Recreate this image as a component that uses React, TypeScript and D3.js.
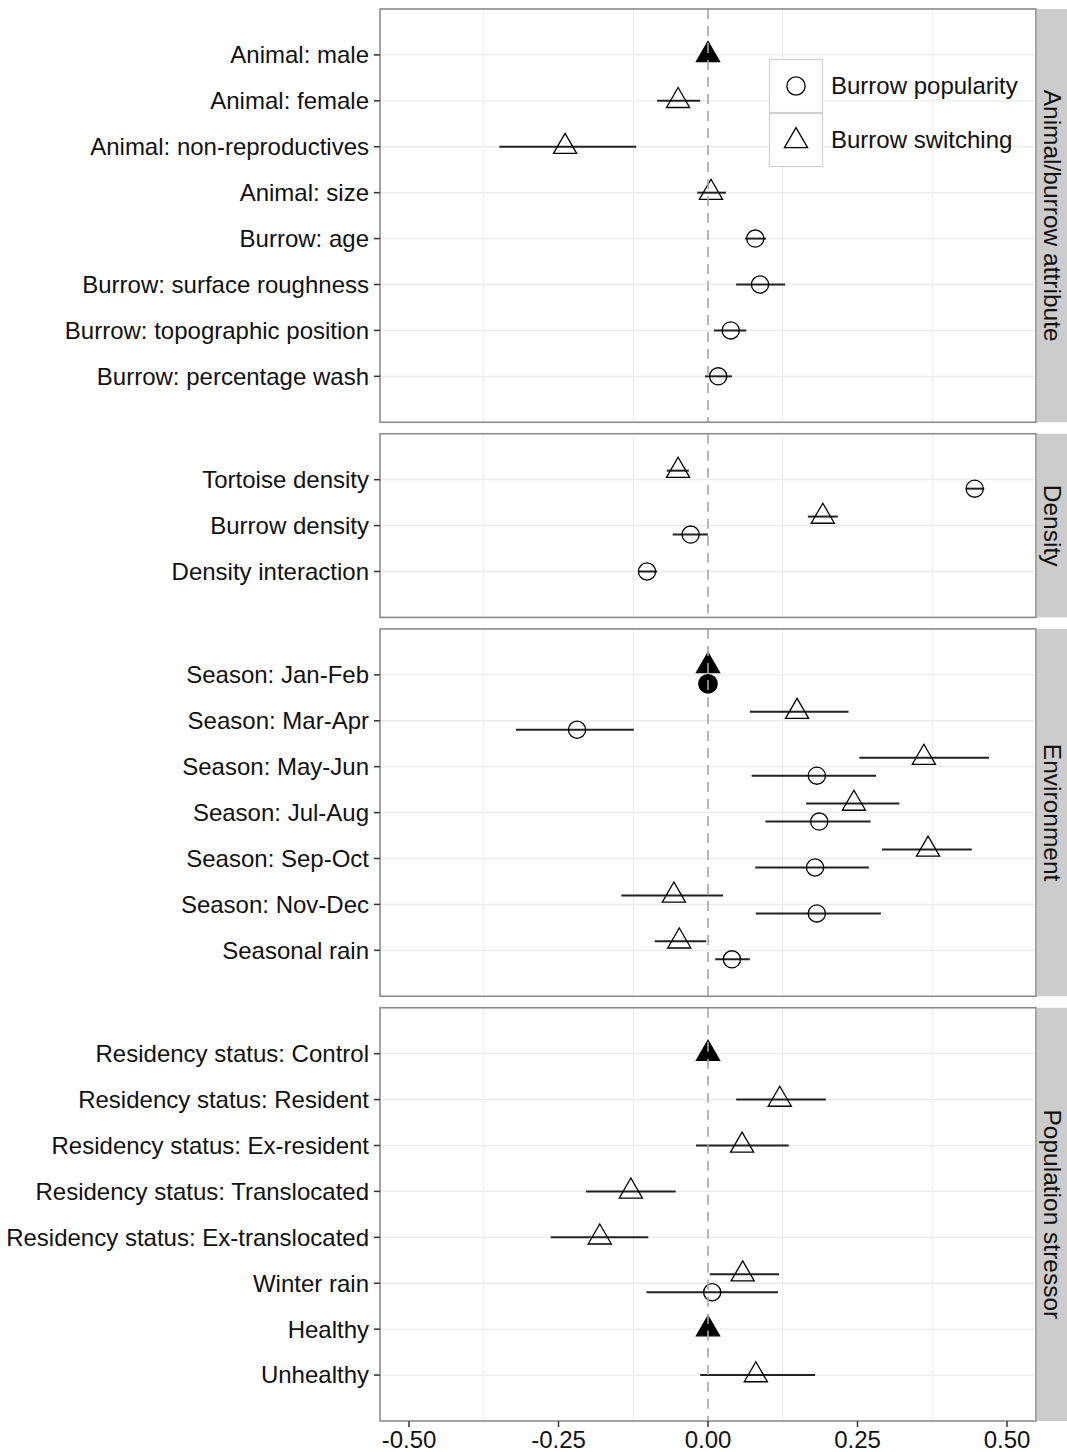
import React from "react";
import * as d3 from "d3";

// ---------- DATA ----------
const panelNames = ["Animal/burrow attribute", "Density", "Environment", "Population stressor"];

const animalTerms = [
  "Animal: male", "Animal: female", "Animal: non-reproductives", "Animal: size",
  "Burrow: age", "Burrow: surface roughness", "Burrow: topographic position", "Burrow: percentage wash",
];
const densityTerms = ["Tortoise density", "Burrow density", "Density interaction"];
const environmentTerms = [
  "Season: Jan-Feb", "Season: Mar-Apr", "Season: May-Jun", "Season: Jul-Aug",
  "Season: Sep-Oct", "Season: Nov-Dec", "Seasonal rain",
];
const stressorTerms = [
  "Residency status: Control", "Residency status: Resident", "Residency status: Ex-resident",
  "Residency status: Translocated", "Residency status: Ex-translocated", "Winter rain", "Healthy", "Unhealthy",
];
const panelTerms = [animalTerms, densityTerms, environmentTerms, stressorTerms];

// reference levels (filled markers, estimate fixed at 0)
const referenceTerms = ["Animal: male", "Season: Jan-Feb", "Residency status: Control", "Healthy"];

// Burrow switching (triangles)
const switchingTerm = [
  "Animal: male", "Animal: female", "Animal: non-reproductives", "Animal: size",
  "Tortoise density", "Burrow density",
  "Season: Jan-Feb", "Season: Mar-Apr", "Season: May-Jun", "Season: Jul-Aug", "Season: Sep-Oct", "Season: Nov-Dec", "Seasonal rain",
  "Residency status: Control", "Residency status: Resident", "Residency status: Ex-resident",
  "Residency status: Translocated", "Residency status: Ex-translocated", "Winter rain", "Healthy", "Unhealthy",
];
const switchingEst = [0, -0.050, -0.239, 0.005, -0.050, 0.192, 0, 0.149, 0.361, 0.244, 0.368, -0.057, -0.048, 0, 0.120, 0.057, -0.129, -0.181, 0.058, 0, 0.080];
const switchingLo = [0, -0.085, -0.349, -0.018, -0.069, 0.167, 0, 0.070, 0.253, 0.164, 0.291, -0.145, -0.089, 0, 0.047, -0.020, -0.204, -0.263, 0.003, 0, -0.013];
const switchingHi = [0, -0.013, -0.120, 0.030, -0.032, 0.217, 0, 0.235, 0.470, 0.320, 0.441, 0.025, -0.003, 0, 0.197, 0.135, -0.054, -0.100, 0.119, 0, 0.179];

// Burrow popularity (circles)
const popularityTerm = [
  "Burrow: age", "Burrow: surface roughness", "Burrow: topographic position", "Burrow: percentage wash",
  "Tortoise density", "Burrow density", "Density interaction",
  "Season: Jan-Feb", "Season: Mar-Apr", "Season: May-Jun", "Season: Jul-Aug", "Season: Sep-Oct", "Season: Nov-Dec", "Seasonal rain",
  "Winter rain",
];
const popularityEst = [0.079, 0.087, 0.038, 0.017, 0.446, -0.029, -0.102, 0, -0.219, 0.182, 0.186, 0.179, 0.182, 0.040, 0.007];
const popularityLo = [0.062, 0.047, 0.010, -0.005, 0.431, -0.059, -0.117, 0, -0.321, 0.073, 0.096, 0.079, 0.080, 0.012, -0.103];
const popularityHi = [0.097, 0.129, 0.064, 0.040, 0.462, 0.000, -0.085, 0, -0.124, 0.281, 0.272, 0.269, 0.289, 0.070, 0.117];

const xTicks = [-0.5, -0.25, 0, 0.25, 0.5];
const xMinor = [-0.375, -0.125, 0.125, 0.375];
const seriesNames = ["Burrow popularity", "Burrow switching"];

// ---------- LAYOUT ----------
const W = 1067;
const H = 1452;
const panelLeft = 380;
const panelRight = 1036;
const stripRight = 1072;
const topY = 9;
const bottomY = 1421;
const gap = 11.5;
const fontSize = 24;
const font = "Liberation Sans, Arial, Helvetica, sans-serif";
const dodge = 9;
const R = 8.6;

const TRC0 = 1.5551203;
const TRC1 = TRC0 * Math.sqrt(3) / 2;
const TRC2 = TRC0 / 2;
function trianglePath(cx: number, cy: number, r: number) {
  const p = d3.path();
  p.moveTo(cx, cy - TRC0 * r);
  p.lineTo(cx + TRC1 * r, cy + TRC2 * r);
  p.lineTo(cx - TRC1 * r, cy + TRC2 * r);
  p.closePath();
  return p.toString();
}

type Pt = { term: string; est: number; lo: number; hi: number; series: 0 | 1 };

export default function App() {
  const x = d3.scaleLinear().domain([-0.5485, 0.5485]).range([panelLeft, panelRight]);

  const units = panelTerms.reduce((s, t) => s + t.length + 1, 0);
  const unit = (bottomY - topY - gap * (panelTerms.length - 1)) / units;

  const points: Pt[] = [];
  switchingTerm.forEach((t, i) =>
    points.push({ term: t, est: switchingEst[i], lo: switchingLo[i], hi: switchingHi[i], series: 1 })
  );
  popularityTerm.forEach((t, i) =>
    points.push({ term: t, est: popularityEst[i], lo: popularityLo[i], hi: popularityHi[i], series: 0 })
  );

  let cursor = topY;
  const panels = panelTerms.map((terms, pi) => {
    const top = cursor;
    const bottom = top + (terms.length + 1) * unit;
    cursor = bottom + gap;
    const y = d3.scalePoint<string>().domain(terms).range([top, bottom]).padding(1);
    return { name: panelNames[pi], terms, top, bottom, y };
  });

  const ink = "#111";
  const grid = "#ebebeb";

  return (
    <svg width={W} height={H} style={{ position: "absolute", left: 0, top: 0, background: "#fff" }}
      fontFamily={font}>
      <rect x={0} y={0} width={W} height={H} fill="#fff" />
      {panels.map((p, pi) => {
        const inPanel = points.filter((d) => p.terms.includes(d.term));
        return (
          <g key={pi}>
            {/* grid */}
            {xMinor.map((v) => (
              <line key={"mn" + v} x1={x(v)} x2={x(v)} y1={p.top} y2={p.bottom} stroke={grid} strokeWidth={1} />
            ))}
            {p.terms.map((t) => (
              <line key={"g" + t} x1={panelLeft} x2={panelRight} y1={p.y(t)} y2={p.y(t)} stroke={grid} strokeWidth={1.3} />
            ))}
            {/* error bars and points */}
            {inPanel.map((d, i) => {
              const both = inPanel.filter((e) => e.term === d.term).length > 1;
              const cy = (p.y(d.term) as number) + (both ? (d.series === 1 ? -dodge : dodge) : 0);
              const ref = referenceTerms.includes(d.term);
              const cx = x(d.est);
              return (
                <g key={i}>
                  {!ref && (
                    <line x1={x(d.lo)} x2={x(d.hi)} y1={cy} y2={cy} stroke="#222" strokeWidth={2} />
                  )}
                  {d.series === 1 ? (
                    <path d={trianglePath(cx, cy, R)} fill={ref ? "#000" : "none"} stroke="#000" strokeWidth={1.3} />
                  ) : (
                    <circle cx={cx} cy={cy} r={ref ? R + 0.6 : R} fill={ref ? "#000" : "none"} stroke="#000"
                      strokeWidth={1.3} />
                  )}
                </g>
              );
            })}
            {/* zero line (drawn over points) */}
            <line x1={x(0)} x2={x(0)} y1={p.top} y2={p.bottom} stroke="#a6a6a6" strokeWidth={1.6}
              strokeDasharray="10,7" />
            {/* border */}
            <rect x={panelLeft} y={p.top} width={panelRight - panelLeft} height={p.bottom - p.top} fill="none"
              stroke="#8c8c8c" strokeWidth={1.6} />
            {/* strip */}
            <rect x={panelRight + 0.8} y={p.top} width={stripRight - panelRight} height={p.bottom - p.top} fill="#cccccc" />
            <text transform={`translate(${panelRight + 17},${(p.top + p.bottom) / 2}) rotate(90)`}
              textAnchor="middle" dy="0.35em" fontSize={24.5} fill={ink}>
              {p.name}
            </text>
            {/* y axis */}
            {p.terms.map((t) => (
              <g key={"yt" + t}>
                <line x1={panelLeft - 6} x2={panelLeft} y1={p.y(t)} y2={p.y(t)} stroke="#333" strokeWidth={1.5} />
                <text x={panelLeft - 11} y={p.y(t)} dy="0.35em" textAnchor="end" fontSize={fontSize} fill={ink}>
                  {t}
                </text>
              </g>
            ))}
          </g>
        );
      })}
      {/* x axis */}
      {xTicks.map((v) => (
        <g key={"xt" + v}>
          <line x1={x(v)} x2={x(v)} y1={bottomY} y2={bottomY + 6} stroke="#333" strokeWidth={1.5} />
          <text x={x(v)} y={bottomY + 27} textAnchor="middle" fontSize={fontSize} fill={ink}>
            {v.toFixed(2)}
          </text>
        </g>
      ))}
      {/* legend */}
      <g transform="translate(769,59)">
        <rect x={0} y={0} width={54} height={108} fill="#fff" />
        {seriesNames.map((s, i) => (
          <g key={s} transform={`translate(0,${i * 54})`}>
            <rect x={0.5} y={0.5} width={53} height={53} fill="#fff" stroke="#d0d0d0" strokeWidth={1.2} />
            {i === 0 ? (
              <circle cx={27} cy={27} r={R + 0.5} fill="none" stroke="#000" strokeWidth={1.3} />
            ) : (
              <path d={trianglePath(27, 28, R)} fill="none" stroke="#000" strokeWidth={1.3} />
            )}
            <text x={62} y={27} dy="0.35em" fontSize={fontSize} fill={ink}>{s}</text>
          </g>
        ))}
      </g>
    </svg>
  );
}
